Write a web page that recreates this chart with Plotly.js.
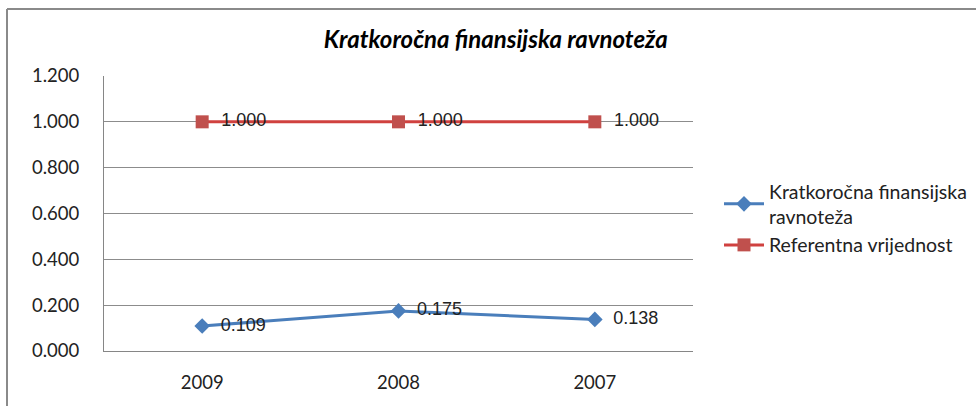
<!DOCTYPE html>
<html>
<head>
<meta charset="utf-8">
<script src="https://cdn.plot.ly/plotly-3.0.1.min.js"></script>
<style>html,body{margin:0;padding:0;background:#fff;}#chart{width:976px;height:406px;}</style>
</head>
<body>
<div id="chart"></div>
<script>
const categories = ["2009", "2008", "2007"];
const kratkorocna = [0.109, 0.175, 0.138];
const referentna = [1.000, 1.000, 1.000];
const seriesNames = ["Kratkoročna finansijska<br>ravnoteža", "Referentna vrijednost"];
const yTickVals = [0, 0.2, 0.4, 0.6, 0.8, 1.0, 1.2];
const yTickText = ["0.000", "0.200", "0.400", "0.600", "0.800", "1.000", "1.200"];
const fmt = v => '\u00a0\u00a0' + v.toFixed(3);

const traces = [
  {
    x: categories, y: kratkorocna, name: seriesNames[0], type: 'scatter', mode: 'lines+markers+text',
    line: {color: '#4A7EBB', width: 3},
    marker: {symbol: 'diamond', size: 12, color: '#4A7EBB'},
    text: kratkorocna.map(fmt), textposition: 'middle right',
    textfont: {family: 'Liberation Sans, Arial', size: 18, color: '#222'},
    cliponaxis: false
  },
  {
    x: categories, y: referentna, name: seriesNames[1], type: 'scatter', mode: 'lines+markers+text',
    line: {color: '#D0413F', width: 3},
    marker: {symbol: 'square', size: 13, color: '#C0504D'},
    text: referentna.map(fmt), textposition: 'middle right',
    textfont: {family: 'Liberation Sans, Arial', size: 18, color: '#222'},
    cliponaxis: false
  }
];

const layout = {
  width: 976, height: 406,
  margin: {l: 104, r: 283, t: 76, b: 55},
  paper_bgcolor: '#fff', plot_bgcolor: '#fff',
  font: {family: 'Lato, "Open Sans", sans-serif', size: 18, color: '#222'},
  title: {
    text: '<b><i>Kratkoročna finansijska ravnoteža</i></b>',
    font: {family: 'Lato, sans-serif', size: 24, color: '#000'},
    xref: 'container', yref: 'container', x: 0.508, xanchor: 'center', y: 1 - 40/406, yanchor: 'middle'
  },
  xaxis: {
    type: 'category', categoryorder: 'array', categoryarray: categories,
    range: [-0.5, 2.5], showgrid: false, zeroline: false,
    showline: true, linecolor: '#868686', linewidth: 1,
    ticks: '', ticklabelstandoff: 15,
    tickfont: {family: 'Lato, sans-serif', size: 18.5, color: '#222'}
  },
  yaxis: {
    range: [0, 1.2], tickvals: yTickVals, ticktext: yTickText,
    showgrid: true, gridcolor: '#8c8c8c', gridwidth: 1,
    zeroline: false, showline: true, linecolor: '#868686', linewidth: 1,
    ticks: '', ticklabelstandoff: 20,
    tickfont: {family: 'Lato, sans-serif', size: 18.5, color: '#222'}
  },
  showlegend: true,
  legend: {
    xref: 'container', yref: 'container', x: 719/976, xanchor: 'left', y: 1 - 172/406, yanchor: 'top',
    font: {family: 'Lato, sans-serif', size: 19.5, color: '#222'},
    bgcolor: 'rgba(0,0,0,0)', tracegroupgap: 4, itemwidth: 40
  },
  shapes: [
    {type: 'line', xref: 'paper', yref: 'paper', x0: (7-104)/589, x1: (7-104)/589, y0: -1, y1: (351-9)/275, line: {color: '#8a8a8a', width: 2}},
    {type: 'line', xref: 'paper', yref: 'paper', x0: (7-104)/589, x1: 2, y0: (351-9)/275, y1: (351-9)/275, line: {color: '#8a8a8a', width: 2}}
  ]
};

Plotly.newPlot('chart', traces, layout, {staticPlot: true, displayModeBar: false});
</script>
</body>
</html>
